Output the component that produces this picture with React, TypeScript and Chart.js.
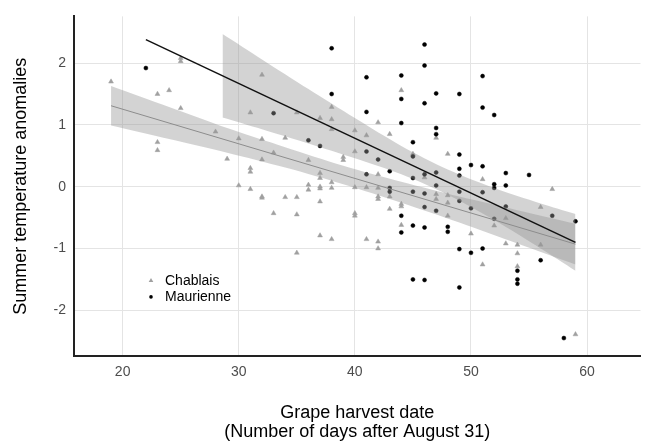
import React, { useEffect, useRef } from "react";
import { Chart, registerables } from "chart.js";

Chart.register(...registerables);

// Chablais observations (grey triangles)
const chablaisX = [
  19, 23, 23, 23, 24, 25, 25, 25, 28, 29, 30, 30, 31, 31, 31, 31,
  32, 32, 32, 32, 32, 33, 33, 34, 34, 35, 35, 35, 35, 36, 36, 36,
  37, 37, 37, 37, 37, 37, 37, 38, 38, 38, 38, 38, 38, 39, 39,
  40, 40, 40, 40, 40, 41, 41, 41, 42, 42, 42, 42, 42, 42, 42,
  43, 43, 43, 44, 44, 44, 44, 45, 46, 47, 47, 47, 48, 48, 48, 48,
  50, 51, 51, 52, 53, 53, 54, 54, 54, 56, 56, 57, 59,
];
const chablaisY = [
  1.7, 1.5, 0.72, 0.59, 1.56, 2.08, 2.03, 1.27, 0.89, 0.45, 0.78, 0.02, 1.2, 0.3, 0.24, -0.04,
  1.81, 0.77, 0.44, -0.16, -0.18, 0.55, -0.43, 0.79, -0.17, 1.2, -0.17, -0.45, -1.07, 0.43, 0.03, -0.05,
  1.11, 0.22, 0.14, 0.0, -0.03, -0.24, -0.79, 1.29, 1.09, 0.93, 0.07, -0.02, -0.85, 0.48, 0.43,
  0.91, 0.57, -0.01, -0.43, -0.47, 0.83, -0.01, -0.85, 1.04, 0.2, -0.02, -0.16, -0.2, -0.89, -1.0,
  0.85, -0.16, -0.36, 1.56, -0.28, -0.32, -0.62, 0.53, 0.15, 0.79, -0.12, -0.2, 0.53, -0.14, -0.26, -0.47,
  -0.76, 0.12, -1.26, -0.63, -0.51, -0.92, -0.94, -1.08, -1.29, -0.33, -0.94, -0.04, -2.39,
];

// Maurienne observations (black dots)
const maurienneX = [
  22, 33, 36, 37, 38, 38, 41, 41, 41, 41, 42, 43, 43, 43,
  44, 44, 44, 44, 44, 45, 45, 45, 45, 45, 45,
  46, 46, 46, 46, 46, 46, 46, 46, 47, 47, 47, 47, 47, 47, 48, 48,
  49, 49, 49, 49, 49, 49, 49, 49, 50, 50, 50, 51, 51, 51, 51, 51,
  52, 52, 52, 52, 53, 53, 53, 54, 54, 54, 55, 56, 57, 58, 59,
];
const maurienneY = [
  1.92, 1.19, 0.75, 0.66, 2.24, 1.5, 1.77, 1.21, 0.57, 0.2, 0.44, 0.25, -0.02, -0.08,
  1.8, 1.42, 1.03, -0.47, -0.74, 0.72, 0.49, 0.14, -0.08, -0.63, -1.5,
  2.3, 1.96, 1.35, 0.2, -0.11, -0.33, -0.66, -1.51, 1.51, 0.95, 0.85, 0.23, 0.02, -0.39, -0.65, -0.73,
  1.5, 0.52, 0.29, 0.18, -0.08, -0.23, -1.01, -1.63, 0.35, -0.35, -1.07, 1.79, 1.28, 0.33, -0.09, -1.0,
  1.16, 0.04, -0.02, -0.52, 0.22, 0.02, -0.32, -1.36, -1.5, -1.57, 0.19, -1.19, -0.47, -2.45, -0.56,
];

// Regression lines
const maurienneLineX = [22, 59];
const maurienneLineY = [2.38, -0.9];
const chablaisLineX = [19, 59];
const chablaisLineY = [1.31, -0.93];

// Confidence bands
const maurienneBandX = [28.6, 32, 36, 40, 44, 48, 52, 56, 59];
const maurienneBandUpper = [2.47, 2.06, 1.58, 1.11, 0.66, 0.28, -0.02, -0.27, -0.44];
const maurienneBandLower = [1.12, 0.93, 0.7, 0.46, 0.2, -0.13, -0.54, -1.0, -1.36];
const chablaisBandX = [19, 24, 29, 34, 39, 44, 49, 54, 59];
const chablaisBandUpper = [1.63, 1.29, 0.95, 0.64, 0.34, 0.08, -0.16, -0.38, -0.6];
const chablaisBandLower = [0.99, 0.77, 0.55, 0.31, 0.04, -0.26, -0.58, -0.92, -1.26];

// Axes
const xTickValues = [20, 30, 40, 50, 60];
const yTickValues = [-2, -1, 0, 1, 2];
const xTitle = ["Grape harvest date", "(Number of days after August 31)"];
const yTitle = "Summer temperature anomalies";
const legendLabels = ["Chablais", "Maurienne"];

const FONT = "'Liberation Sans', Arial, Helvetica, sans-serif";
const BAND_FILL = "rgba(150,150,150,0.42)";

function pts(xs: number[], ys: number[]) {
  return xs.map((x, i) => ({ x, y: ys[i] }));
}

export default function App() {
  const ref = useRef<HTMLCanvasElement | null>(null);

  useEffect(() => {
    if (!ref.current) return;

    const insetLegend = {
      id: "insetLegend",
      afterDraw(chart: any) {
        const { ctx, chartArea } = chart;
        const sx = chartArea.left + 77;
        const y1 = chartArea.top + 264;
        const y2 = y1 + 16.5;
        ctx.save();
        // triangle
        ctx.fillStyle = "#a0a0a0";
        ctx.beginPath();
        ctx.moveTo(sx, y1 - 2.4);
        ctx.lineTo(sx + 2.3, y1 + 1.6);
        ctx.lineTo(sx - 2.3, y1 + 1.6);
        ctx.closePath();
        ctx.fill();
        // dot
        ctx.fillStyle = "#000";
        ctx.beginPath();
        ctx.arc(sx, y2, 1.8, 0, Math.PI * 2);
        ctx.fill();
        ctx.font = `14px ${FONT}`;
        ctx.textBaseline = "middle";
        ctx.textAlign = "left";
        ctx.fillStyle = "#000";
        ctx.fillText(legendLabels[0], sx + 14, y1 + 0.5);
        ctx.fillText(legendLabels[1], sx + 14, y2);
        ctx.restore();
      },
    };

    const chart = new Chart(ref.current, {
      type: "line",
      data: {
        datasets: [
          {
            label: "Maurienne fit",
            data: pts(maurienneLineX, maurienneLineY),
            borderColor: "#111",
            borderWidth: 1.5,
            pointRadius: 0,
            fill: false,
          },
          {
            label: "Chablais fit",
            data: pts(chablaisLineX, chablaisLineY),
            borderColor: "#8c8c8c",
            borderWidth: 1,
            pointRadius: 0,
            fill: false,
          },
          {
            label: "Maurienne upper",
            data: pts(maurienneBandX, maurienneBandUpper),
            borderWidth: 0,
            borderColor: "rgba(0,0,0,0)",
            backgroundColor: BAND_FILL,
            pointRadius: 0,
            tension: 0.3,
            fill: "+1",
          },
          {
            label: "Maurienne lower",
            data: pts(maurienneBandX, maurienneBandLower),
            borderWidth: 0,
            borderColor: "rgba(0,0,0,0)",
            pointRadius: 0,
            tension: 0.3,
            fill: false,
          },
          {
            label: "Chablais upper",
            data: pts(chablaisBandX, chablaisBandUpper),
            borderWidth: 0,
            borderColor: "rgba(0,0,0,0)",
            backgroundColor: BAND_FILL,
            pointRadius: 0,
            tension: 0.3,
            fill: "+1",
          },
          {
            label: "Chablais lower",
            data: pts(chablaisBandX, chablaisBandLower),
            borderWidth: 0,
            borderColor: "rgba(0,0,0,0)",
            pointRadius: 0,
            tension: 0.3,
            fill: false,
          },
          {
            label: "Maurienne",
            data: pts(maurienneX, maurienneY),
            showLine: false,
            pointStyle: "circle",
            pointRadius: 2,
            pointBackgroundColor: "#000",
            pointBorderColor: "#000",
            pointBorderWidth: 0.5,
          },
          {
            label: "Chablais",
            data: pts(chablaisX, chablaisY),
            showLine: false,
            pointStyle: "triangle",
            pointRadius: 2.8,
            pointBackgroundColor: "#a0a0a0",
            pointBorderColor: "#a0a0a0",
            pointBorderWidth: 0.5,
          },
        ],
      },
      options: {
        responsive: false,
        animation: false,
        layout: { padding: { top: 7, right: 0, left: 0, bottom: 0 } },
        plugins: {
          legend: { display: false },
          tooltip: { enabled: false },
        },
        scales: {
          x: {
            type: "linear",
            min: 15.81,
            max: 64.6,
            afterBuildTicks: (s: any) => {
              s.ticks = xTickValues.map((v) => ({ value: v }));
            },
            afterFit: (s: any) => {
              s.height = 86;
            },
            grid: { color: "#e4e4e4", lineWidth: 1, drawTicks: false },
            border: { display: true, color: "#222", width: 2 },
            ticks: {
              padding: 8,
              color: "#4d4d4d",
              font: { size: 14, family: FONT },
            },
            title: {
              display: true,
              text: xTitle,
              color: "#000",
              font: { size: 18, family: FONT, lineHeight: 1.06 },
              padding: { top: 0, bottom: 0 },
            },
          },
          y: {
            type: "linear",
            min: -2.74,
            max: 2.756,
            afterBuildTicks: (s: any) => {
              s.ticks = yTickValues.map((v) => ({ value: v }));
            },
            afterFit: (s: any) => {
              s.width = 74;
            },
            grid: { color: "#e4e4e4", lineWidth: 1, drawTicks: false },
            border: { display: true, color: "#222", width: 2 },
            ticks: {
              padding: 8,
              color: "#4d4d4d",
              font: { size: 14, family: FONT },
            },
            title: {
              display: true,
              text: yTitle,
              color: "#000",
              font: { size: 18, family: FONT, lineHeight: 1.2 },
              padding: { top: 10, bottom: 0 },
            },
          },
        },
      },
      plugins: [insetLegend],
    } as any);

    return () => chart.destroy();
  }, []);

  return (
    <div style={{ position: "fixed", left: 0, top: 0, width: 645, height: 442, background: "#fff" }}>
      <canvas ref={ref} width={645} height={442} style={{ display: "block" }} />
    </div>
  );
}
